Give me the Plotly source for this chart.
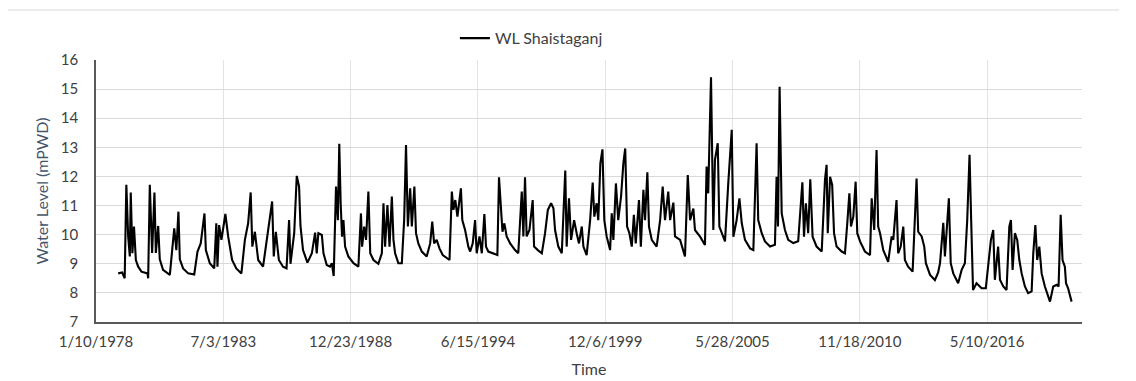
import datetime as dt
import plotly.graph_objects as go

# Decimal-year time stamps and water levels (mPWD)
years = [
    1978.98, 1979.15, 1979.26, 1979.33, 1979.41, 1979.48, 1979.52, 1979.59, 1979.66, 1979.74,
    1979.84, 1979.98, 1980.24, 1980.27, 1980.34, 1980.44, 1980.54, 1980.60, 1980.70, 1980.77,
    1980.91, 1981.20, 1981.39, 1981.48, 1981.57, 1981.63, 1981.77, 1981.99, 1982.25, 1982.39,
    1982.53, 1982.69, 1982.75, 1982.92, 1983.11, 1983.20, 1983.25, 1983.32, 1983.42, 1983.59,
    1983.71, 1983.88, 1984.06, 1984.28, 1984.43, 1984.57, 1984.68, 1984.75, 1984.86, 1985.00,
    1985.21, 1985.36, 1985.50, 1985.60, 1985.67, 1985.76, 1985.89, 1986.07, 1986.22, 1986.33,
    1986.39, 1986.55, 1986.66, 1986.76, 1986.82, 1986.93, 1987.12, 1987.31, 1987.45, 1987.52,
    1987.59, 1987.74, 1987.81, 1987.95, 1988.09, 1988.17, 1988.25, 1988.35, 1988.43, 1988.49,
    1988.55, 1988.61, 1988.67, 1988.74, 1988.88, 1989.10, 1989.31, 1989.42, 1989.47, 1989.56,
    1989.64, 1989.74, 1989.82, 1989.96, 1990.17, 1990.32, 1990.39, 1990.46, 1990.56, 1990.65,
    1990.75, 1990.82, 1990.89, 1991.03, 1991.18, 1991.28, 1991.36, 1991.44, 1991.54, 1991.61,
    1991.72, 1991.79, 1991.89, 1992.04, 1992.25, 1992.40, 1992.49, 1992.57, 1992.68, 1992.80,
    1992.94, 1993.11, 1993.23, 1993.33, 1993.40, 1993.48, 1993.57, 1993.72, 1993.78, 1993.90,
    1994.04, 1994.12, 1994.23, 1994.33, 1994.40, 1994.52, 1994.62, 1994.73, 1994.80, 1994.90,
    1995.12, 1995.29, 1995.36, 1995.45, 1995.51, 1995.59, 1995.69, 1995.84, 1996.05, 1996.19,
    1996.34, 1996.41, 1996.48, 1996.55, 1996.67, 1996.81, 1996.87, 1997.03, 1997.20, 1997.34,
    1997.46, 1997.60, 1997.70, 1997.77, 1997.91, 1998.06, 1998.21, 1998.27, 1998.37, 1998.46,
    1998.59, 1998.70, 1998.80, 1998.92, 1998.99, 1999.13, 1999.28, 1999.39, 1999.46, 1999.56,
    1999.63, 1999.72, 1999.81, 1999.89, 1999.99, 2000.14, 2000.21, 2000.28, 2000.39, 2000.49,
    2000.61, 2000.71, 2000.79, 2000.87, 2000.97, 2001.07, 2001.16, 2001.24, 2001.38, 2001.46,
    2001.57, 2001.64, 2001.74, 2001.81, 2001.93, 2002.14, 2002.29, 2002.40, 2002.50, 2002.64,
    2002.72, 2002.86, 2002.93, 2003.15, 2003.29, 2003.36, 2003.48, 2003.58, 2003.72, 2003.79,
    2004.01, 2004.22, 2004.29, 2004.36, 2004.48, 2004.58, 2004.65, 2004.77, 2004.84, 2004.94,
    2005.08, 2005.22, 2005.37, 2005.44, 2005.58, 2005.70, 2005.80, 2005.94, 2006.16, 2006.30,
    2006.44, 2006.51, 2006.66, 2006.80, 2007.02, 2007.23, 2007.30, 2007.36, 2007.43, 2007.52,
    2007.66, 2007.80, 2008.02, 2008.23, 2008.41, 2008.48, 2008.56, 2008.66, 2008.75, 2008.85,
    2009.02, 2009.24, 2009.38, 2009.45, 2009.50, 2009.60, 2009.69, 2009.77, 2009.88, 2010.10,
    2010.24, 2010.34, 2010.43, 2010.50, 2010.60, 2010.70, 2010.77, 2010.89, 2011.10, 2011.32,
    2011.39, 2011.50, 2011.60, 2011.67, 2011.75, 2011.89, 2012.10, 2012.25, 2012.32, 2012.46,
    2012.53, 2012.64, 2012.75, 2012.82, 2012.96, 2013.15, 2013.25, 2013.32, 2013.39, 2013.54,
    2013.65, 2013.72, 2013.90, 2014.11, 2014.25, 2014.33, 2014.47, 2014.54, 2014.71, 2014.79,
    2014.90, 2015.11, 2015.26, 2015.40, 2015.50, 2015.60, 2015.67, 2015.75, 2015.90, 2016.12,
    2016.30, 2016.40, 2016.52, 2016.62, 2016.69, 2016.83, 2016.91, 2017.05, 2017.19, 2017.31,
    2017.38, 2017.45, 2017.55, 2017.65, 2017.74, 2017.84, 2017.98, 2018.12, 2018.27, 2018.34,
    2018.43, 2018.51, 2018.60, 2018.70, 2018.84, 2019.06, 2019.20, 2019.35, 2019.43, 2019.52,
    2019.60, 2019.70, 2019.75, 2019.84, 2019.99,
]

water_level = [
    8.67, 8.70, 8.50, 11.71, 9.93, 9.25, 11.45, 9.36, 10.28, 9.13,
    8.90, 8.73, 8.67, 8.50, 11.71, 9.37, 11.45, 9.37, 10.30, 9.15,
    8.79, 8.62, 10.22, 9.47, 10.79, 9.15, 8.84, 8.67, 8.63, 9.42,
    9.70, 10.73, 9.47, 9.02, 8.84, 10.39, 8.90, 10.33, 9.82, 10.71,
    9.94, 9.13, 8.84, 8.67, 9.82, 10.39, 11.45, 9.59, 10.10, 9.13,
    8.90, 9.82, 10.50, 11.14, 9.25, 10.10, 9.13, 8.90, 8.84, 10.50,
    9.00, 10.05, 12.02, 11.65, 10.30, 9.47, 9.04, 9.36, 10.07, 9.36,
    10.05, 9.99, 9.36, 8.96, 8.90, 9.02, 8.58, 11.65, 10.50, 13.12,
    11.08, 9.93, 10.50, 9.59, 9.25, 9.02, 8.90, 10.73, 9.59, 10.28,
    9.82, 11.48, 9.36, 9.13, 9.00, 9.36, 11.08, 9.59, 11.02, 9.59,
    11.31, 9.82, 9.36, 9.02, 9.02, 10.50, 13.08, 10.28, 11.59, 10.28,
    11.65, 10.05, 9.70, 9.42, 9.25, 9.70, 10.45, 9.70, 9.82, 9.53,
    9.30, 9.19, 9.13, 11.48, 10.85, 11.19, 10.62, 11.59, 10.50, 10.16,
    9.59, 9.42, 9.70, 10.50, 9.36, 9.94, 9.36, 10.71, 9.59, 9.42,
    9.36, 9.30, 11.97, 10.62, 10.10, 10.39, 9.94, 9.70, 9.47, 9.36,
    11.48, 9.94, 11.97, 9.94, 10.16, 11.19, 9.59, 9.47, 9.36, 10.05,
    10.85, 11.08, 10.91, 10.16, 9.59, 9.36, 12.20, 9.59, 11.25, 9.82,
    10.50, 10.05, 9.70, 10.28, 9.59, 9.30, 10.50, 11.79, 10.62, 11.08,
    10.50, 12.45, 12.93, 10.50, 9.94, 9.47, 10.73, 9.82, 11.76, 10.50,
    11.31, 12.45, 12.96, 10.28, 10.05, 9.59, 10.68, 9.70, 11.19, 9.59,
    11.54, 10.50, 12.14, 10.28, 9.82, 9.59, 10.50, 11.65, 10.50, 11.48,
    10.50, 11.10, 9.94, 9.82, 9.42, 9.25, 12.05, 10.50, 10.90, 10.16,
    9.93, 9.65, 12.34, 11.42, 15.41, 10.16, 12.57, 13.14, 10.28, 10.05,
    9.77, 11.76, 13.60, 9.93, 10.50, 11.25, 10.40, 9.82, 9.53, 9.47,
    13.14, 10.50, 10.05, 9.77, 9.59, 9.65, 11.99, 10.28, 15.08, 10.73,
    10.16, 9.82, 9.71, 9.77, 11.80, 9.93, 11.08, 10.05, 11.90, 9.93,
    9.59, 9.42, 11.88, 12.40, 10.05, 11.99, 11.71, 10.05, 9.59, 9.42,
    9.36, 10.39, 11.42, 10.28, 10.62, 11.82, 10.05, 9.77, 9.42, 9.30,
    11.25, 10.16, 12.91, 10.28, 10.05, 9.47, 9.07, 9.94, 9.82, 11.19,
    9.36, 9.59, 10.28, 9.13, 8.90, 8.73, 10.50, 11.93, 10.10, 9.94,
    9.59, 9.02, 8.62, 8.44, 8.70, 9.02, 10.41, 9.25, 11.25, 9.02,
    8.67, 8.33, 8.79, 9.02, 10.50, 12.74, 10.50, 8.10, 8.33, 8.16,
    8.16, 8.90, 9.82, 10.16, 8.45, 9.59, 8.45, 8.22, 8.10, 10.28,
    10.50, 8.79, 10.05, 9.82, 9.13, 8.67, 8.22, 7.99, 8.05, 9.36,
    10.33, 9.13, 9.59, 8.67, 8.22, 7.70, 8.22, 8.28, 8.22, 10.68,
    9.13, 8.90, 8.33, 8.16, 7.70,
]

tick_dates = ["1978-01-10", "1983-07-03", "1988-12-23", "1994-06-15",
              "1999-12-06", "2005-05-28", "2010-11-18", "2016-05-10"]
tick_labels = ["1/10/1978", "7/3/1983", "12/23/1988", "6/15/1994",
               "12/6/1999", "5/28/2005", "11/18/2010", "5/10/2016"]
y_ticks = [7, 8, 9, 10, 11, 12, 13, 14, 15, 16]


def to_date(t):
    y = int(t)
    return dt.datetime(y, 1, 1) + dt.timedelta(days=(t - y) * 365.25)


dates = [to_date(t) for t in years]

fig = go.Figure()
fig.add_trace(go.Scatter(
    x=dates, y=water_level, mode="lines", name="WL Shaistaganj",
    line=dict(color="#000000", width=2.1),
))

font_family = "Lato, 'Open Sans', sans-serif"
fig.update_layout(
    width=1128, height=373,
    margin=dict(l=88, r=54, t=52, b=59, autoexpand=False),
    paper_bgcolor="white", plot_bgcolor="white",
    font=dict(family=font_family, size=15, color="#404040"),
    showlegend=True,
    legend=dict(orientation="h", x=0.364, xanchor="left", y=1.148, yanchor="top",
                font=dict(size=16, color="#404040"), bgcolor="rgba(0,0,0,0)"),
    xaxis=dict(
        type="date", range=["1978-01-10", "2020-06-09"],
        tickvals=tick_dates, ticktext=tick_labels,
        showgrid=True, gridcolor="#e4e4e4", gridwidth=1,
        showline=True, linecolor="#595959", linewidth=1.5,
        ticks="", tickfont=dict(size=15, color="#404040"),
        ticklabelstandoff=5, automargin=False,
        title=dict(text="Time", font=dict(size=16, color="#404040"), standoff=15),
        zeroline=False,
    ),
    yaxis=dict(
        range=[7, 16], tickvals=y_ticks,
        showgrid=True, gridcolor="#d9d9d9", gridwidth=1,
        showline=True, linecolor="#595959", linewidth=1.5,
        ticks="", tickfont=dict(size=15, color="#404040"),
        ticklabelstandoff=13, automargin=False,
        title=dict(text="Water Level (mPWD)", font=dict(size=16, color="#44546A"), standoff=8),
        zeroline=False,
    ),
    shapes=[dict(type="line", xref="paper", yref="paper", x0=-0.0893, x1=1.0375,
                 y0=1.191, y1=1.191, line=dict(color="#d9d9d9", width=1))],
)

fig.write_html("out.html")
